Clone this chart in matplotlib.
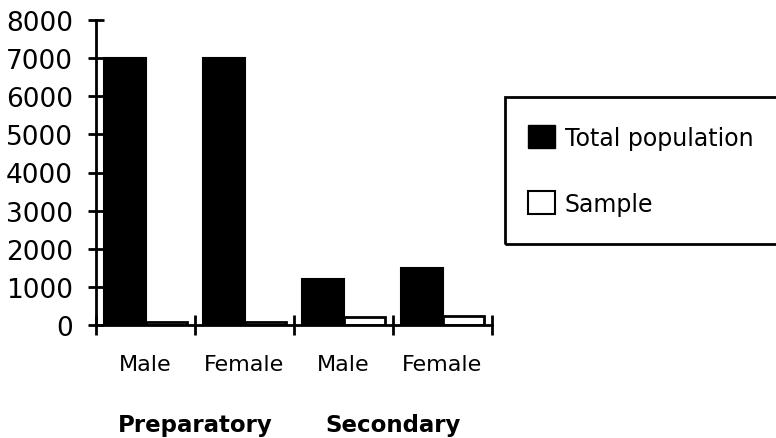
import numpy as np
import matplotlib.pyplot as plt
import matplotlib.patches as mpatches

# --- data ---
categories = ["Male", "Female", "Male", "Female"]
groups = ["Preparatory", "Secondary"]
total_population = [7000, 7000, 1200, 1500]
sample = [70, 70, 220, 240]

plt.rcParams['font.family'] = "DejaVu Sans"

fig = plt.figure(figsize=(7.76, 4.39), dpi=100)
fig.patch.set_facecolor("white")
ax = fig.add_axes([96 / 776, 1 - 326 / 439, (492 - 96) / 776, (326 - 21) / 439])

x = np.arange(len(categories))
W = 0.42
ax.bar(x + 0.08, total_population, width=W, align="edge",
       color="black", edgecolor="black", lw=1.5, zorder=2)
ax.bar(x + 0.08 + W, sample, width=W, align="edge",
       color="white", edgecolor="black", lw=2, zorder=2)

ax.set_xlim(0, len(categories))
ax.set_ylim(0, 8000)
ax.set_yticks(np.arange(0, 8001, 1000))
ax.set_xticks(np.arange(0, len(categories) + 1))
ax.set_xticklabels([])
ax.tick_params(axis="both", direction="inout", length=11, width=2)
ax.tick_params(axis="x", length=14)
ax.tick_params(axis="y", pad=11, labelsize=19)
for s in ["top", "right"]:
    ax.spines[s].set_visible(False)
for s in ["left", "bottom"]:
    ax.spines[s].set_linewidth(2)

# category labels
for i, c in enumerate(categories):
    ax.text(i + 0.5, -1030, c, ha="center", va="center", fontsize=16)
for j, g in enumerate(groups):
    ax.text(2 * j + 1, -2600, g, ha="center", va="center", fontsize=16.5, fontweight="bold")

# legend box (runs off the right edge)
fig.patches.append(mpatches.Rectangle((505 / 776, 1 - 245 / 439), 0.5, 147 / 439,
                                      transform=fig.transFigure, fill=False,
                                      ec="black", lw=2))
handles = [
    mpatches.Patch(facecolor="black", edgecolor="black", label="Total population"),
    mpatches.Patch(facecolor="white", edgecolor="black", lw=1.5, label="Sample"),
]
fig.legend(handles=handles, loc="upper left", bbox_to_anchor=(528 / 776, 1 - 126 / 439),
           frameon=False, fontsize=17, handlelength=1.15, handleheight=1.15,
           labelspacing=1.75, handletextpad=0.4, borderaxespad=0, borderpad=0)

plt.savefig("out.png", dpi=100)
